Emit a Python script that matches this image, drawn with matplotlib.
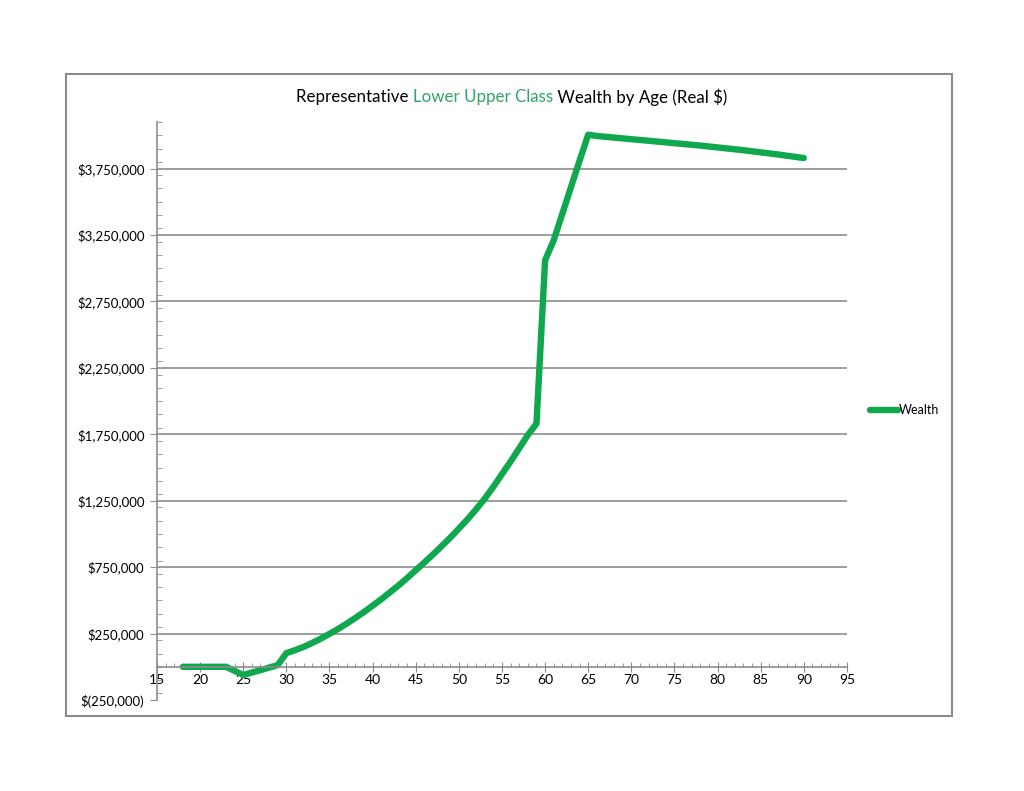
import numpy as np
from matplotlib import pyplot as plt
from matplotlib.patches import Rectangle
from matplotlib.ticker import MultipleLocator, FuncFormatter

# wealth by age (dollars)
ages = list(range(18, 91))
wealth = [
    0, 0, 0, 0, 0, 0,                      # 18-23
    -30000, -62000, -43000, -25000, -6000, 13000,  # 24-29
    103000, 125000, 150000, 180000, 212000,       # 30-34
    248000, 285000, 325000, 368000, 412000,       # 35-39
    460000, 508000, 560000, 612000, 668000,       # 40-44
    727000, 785000, 845000, 908000, 972000,       # 45-49
    1040000, 1110000, 1185000, 1265000, 1355000,  # 50-54
    1450000, 1545000, 1645000, 1745000, 1830000,  # 55-59
    3060000, 3210000, 3410000, 3610000, 3810000,  # 60-64
    4005000, 3995000, 3989000, 3983000, 3977000,  # 65-69
    3971000, 3965000, 3959000, 3953000, 3947000,  # 70-74
    3941000, 3935000, 3929000, 3923000, 3916000,  # 75-79
    3909000, 3902000, 3895000, 3888000, 3880000,  # 80-84
    3872000, 3864000, 3856000, 3847000, 3838000,  # 85-89
    3829000,                                       # 90
]
title_parts = [('Representative ', 'black'),
               ('Lower Upper Class', '#2ea566'),
               (' Wealth by Age (Real $)', 'black')]

green = '#10a84e'
grey = '#8c8c8c'

plt.rcParams['font.family'] = ['Lato', 'DejaVu Sans']
fig = plt.figure(figsize=(10.24, 7.91), dpi=100)
ax = fig.add_axes([0.1533, 0.1150, 0.6738, 0.7307])

ax.plot(ages, wealth, color=green, lw=4.6, solid_capstyle='round',
        solid_joinstyle='round', label='Wealth')

ax.set_xlim(15, 95)
ax.set_ylim(-250000, 4100000)
ax.xaxis.set_major_locator(MultipleLocator(5))
ax.xaxis.set_minor_locator(MultipleLocator(1))
ax.set_yticks(np.arange(-250000, 4000000, 500000))
ax.yaxis.set_minor_locator(MultipleLocator(100000))

def money(v, pos):
    if v < 0:
        return '$({:,.0f})'.format(-v)
    return '${:,.0f}'.format(v)

ax.yaxis.set_major_formatter(FuncFormatter(money))

for s in ['top', 'right']:
    ax.spines[s].set_visible(False)
ax.spines['bottom'].set_position(('data', 0))
ax.spines['bottom'].set_color(grey)
ax.spines['left'].set_color(grey)
ax.spines['bottom'].set_linewidth(1.2)
ax.spines['left'].set_linewidth(1.2)

ax.tick_params(axis='x', which='major', direction='inout', length=7, color=grey,
               labelsize=10, pad=2)
ax.tick_params(axis='x', which='minor', direction='in', length=3, color=grey)
ax.tick_params(axis='y', which='major', direction='out', length=5, color=grey,
               labelsize=9.5, pad=4)
ax.tick_params(axis='y', which='minor', direction='in', length=3.5, color=grey)

ax.yaxis.grid(True, which='major', color=grey, lw=1.2)
ax.get_ygridlines()[0].set_visible(False)
ax.set_axisbelow(True)

# title in three colours, laid out piece by piece
fig.canvas.draw()
r = fig.canvas.get_renderer()
pieces = []
for txt, col in title_parts:
    t = fig.text(0, 1 - 97 / 791, txt, color=col, fontsize=12.2, va='center')
    pieces.append(t)
widths = [p.get_window_extent(r).width for p in pieces]
x = 511.5 - sum(widths) / 2
for p, w in zip(pieces, widths):
    p.set_x(x / 1024)
    x += w

ax.legend(loc='center left', bbox_to_anchor=(870 / 1024, 1 - 410 / 791),
          bbox_transform=fig.transFigure, frameon=False, fontsize=9,
          handlelength=2.2, handletextpad=0.1, borderpad=0, borderaxespad=0)

fig.patches.append(Rectangle((66 / 1024, 1 - 716 / 791), 886 / 1024, 642 / 791,
                             transform=fig.transFigure, fill=False,
                             edgecolor=grey, lw=1.5))

fig.savefig('out.png', dpi=100)
